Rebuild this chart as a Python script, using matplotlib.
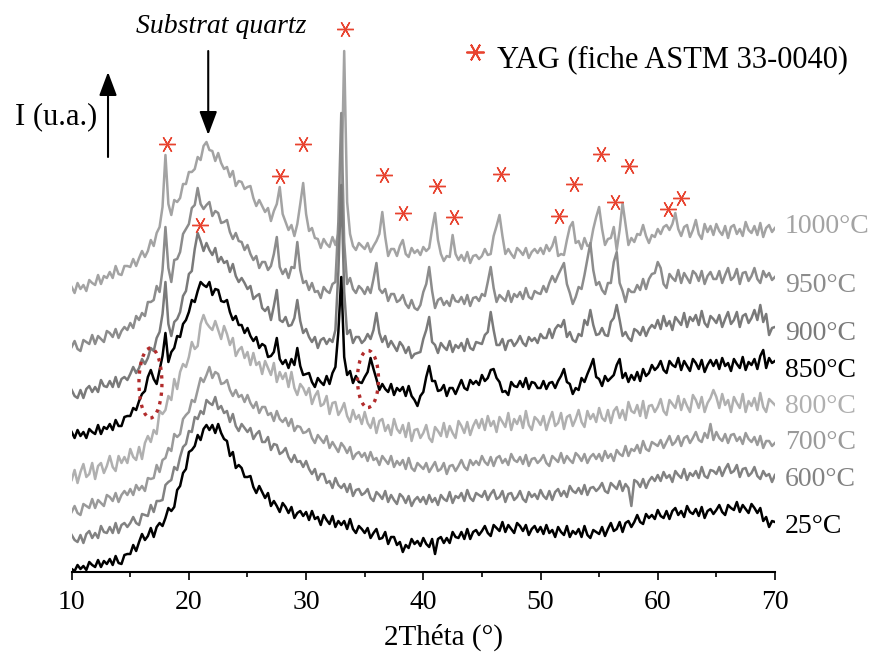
import numpy as np
import matplotlib
matplotlib.use("Agg")
import matplotlib.pyplot as plt
from matplotlib.patches import Ellipse

plt.rcParams['font.family'] = ['Liberation Serif', 'DejaVu Serif']

# 2theta grid, 0.25 deg steps
two_theta = np.linspace(10, 70, 241)

# stacked intensities (u.a.)
i_25 = [3, 1, 7, 3, 6, 2, 10, 7, 5, 12, 5, 11, 8, 13, 7, 16, 9, 8, 17, 18,
        18, 27, 21, 30, 38, 32, 36, 44, 35, 45, 49, 46, 54, 64, 61, 65, 82, 86, 99, 103,
        120, 122, 126, 137, 132, 143, 147, 142, 147, 139, 148, 139, 133, 131, 116, 120, 104, 107, 104, 95,
        95, 96, 85, 79, 86, 80, 74, 79, 66, 71, 66, 60, 69, 65, 59, 65, 54, 59, 61, 56,
        60, 52, 61, 53, 55, 47, 57, 52, 48, 56, 45, 51, 47, 51, 43, 53, 43, 39, 46, 43,
        39, 44, 34, 39, 43, 33, 34, 40, 28, 35, 35, 27, 30, 20, 27, 24, 33, 28, 31, 26,
        34, 28, 25, 33, 18, 33, 35, 29, 34, 29, 40, 35, 34, 40, 33, 43, 33, 40, 42, 37,
        41, 46, 39, 36, 47, 44, 41, 50, 40, 47, 43, 39, 49, 46, 41, 47, 37, 43, 46, 40,
        45, 38, 47, 39, 42, 35, 45, 40, 37, 46, 35, 41, 38, 43, 35, 46, 37, 34, 42, 40,
        38, 45, 36, 43, 49, 41, 43, 50, 40, 49, 51, 45, 50, 57, 50, 48, 58, 54, 57, 53,
        62, 56, 54, 61, 53, 61, 64, 57, 61, 55, 66, 60, 58, 63, 56, 65, 54, 61, 63, 58,
        62, 67, 60, 57, 67, 64, 62, 70, 60, 67, 63, 59, 68, 64, 59, 64, 51, 55, 45, 51,
        50]

i_600 = [37, 32, 30, 37, 29, 38, 41, 34, 39, 34, 46, 40, 39, 45, 39, 49, 39, 47, 49, 45,
         49, 55, 49, 47, 58, 57, 56, 67, 60, 71, 71, 72, 87, 90, 92, 105, 102, 115, 125, 128,
         141, 140, 155, 153, 161, 158, 172, 169, 167, 175, 163, 166, 159, 161, 150, 158, 146, 141, 148, 144,
         140, 144, 133, 138, 141, 130, 130, 135, 122, 128, 127, 118, 120, 124, 115, 110, 117, 110, 111, 105,
         111, 103, 98, 103, 92, 98, 98, 89, 91, 84, 94, 87, 84, 88, 80, 88, 76, 82, 83, 77,
         79, 83, 74, 71, 80, 77, 73, 81, 70, 77, 72, 68, 78, 75, 69, 76, 66, 72, 75, 70,
         75, 68, 77, 70, 74, 67, 77, 73, 71, 80, 69, 76, 74, 79, 71, 82, 74, 71, 79, 77,
         75, 81, 72, 78, 82, 73, 75, 81, 70, 78, 79, 72, 75, 81, 73, 70, 80, 75, 78, 73,
         82, 76, 73, 81, 72, 80, 83, 76, 81, 75, 86, 81, 79, 84, 78, 87, 77, 84, 85, 81,
         84, 89, 81, 79, 89, 86, 83, 91, 81, 88, 84, 66, 92, 90, 85, 93, 84, 91, 95, 91,
         97, 91, 100, 94, 97, 90, 101, 97, 94, 103, 92, 99, 96, 101, 94, 105, 96, 94, 102, 101,
         98, 105, 96, 103, 108, 99, 101, 107, 95, 103, 104, 96, 99, 105, 96, 93, 101, 96, 98, 90,
         97]

i_700 = [60, 66, 59, 57, 68, 66, 64, 73, 64, 72, 69, 66, 77, 75, 71, 79, 70, 77, 81, 77,
         83, 77, 87, 82, 86, 81, 94, 93, 94, 107, 100, 112, 114, 124, 121, 138, 135, 138, 153, 157,
         160, 172, 170, 182, 194, 190, 197, 205, 194, 200, 198, 188, 189, 192, 182, 176, 182, 175, 177, 170,
         177, 169, 164, 170, 159, 165, 165, 157, 159, 151, 161, 153, 150, 154, 146, 153, 141, 146, 145, 139,
         140, 143, 134, 129, 137, 133, 129, 136, 124, 130, 125, 120, 129, 125, 119, 125, 113, 118, 120, 115,
         119, 111, 120, 112, 114, 107, 116, 112, 108, 116, 105, 111, 107, 112, 103, 114, 104, 101, 109, 106,
         103, 109, 100, 105, 110, 101, 103, 109, 98, 106, 107, 101, 106, 112, 105, 102, 112, 107, 111, 107,
         116, 110, 107, 115, 106, 114, 116, 109, 113, 107, 118, 112, 110, 115, 108, 117, 106, 113, 114, 109,
         112, 117, 109, 106, 116, 113, 110, 119, 109, 116, 112, 109, 119, 116, 111, 118, 109, 115, 118, 113,
         118, 111, 121, 114, 118, 111, 122, 118, 116, 126, 116, 123, 121, 127, 119, 131, 123, 121, 130, 128,
         126, 132, 124, 130, 136, 127, 130, 136, 126, 134, 136, 129, 134, 140, 132, 130, 139, 134, 148, 132,
         140, 134, 131, 138, 129, 137, 138, 131, 135, 128, 139, 133, 130, 135, 127, 136, 124, 131, 131, 126,
         129]

i_800 = [92, 102, 89, 100, 108, 95, 98, 109, 93, 106, 109, 99, 106, 116, 105, 101, 116, 109, 115, 109,
         123, 115, 112, 125, 113, 129, 136, 130, 142, 138, 161, 158, 162, 176, 172, 193, 183, 200, 208, 205,
         215, 230, 223, 226, 248, 257, 249, 245, 242, 251, 242, 233, 246, 238, 227, 234, 216, 222, 225, 214,
         220, 207, 219, 207, 210, 198, 211, 204, 197, 209, 190, 200, 193, 199, 185, 200, 184, 177, 188, 184,
         177, 184, 168, 176, 181, 166, 168, 176, 158, 169, 170, 157, 162, 169, 156, 150, 162, 153, 157, 148,
         160, 149, 144, 154, 139, 151, 153, 141, 147, 137, 153, 143, 139, 147, 135, 149, 131, 142, 143, 134,
         139, 147, 134, 130, 145, 141, 136, 149, 135, 146, 139, 134, 151, 146, 139, 150, 137, 146, 152, 144,
         153, 142, 156, 146, 151, 140, 155, 150, 145, 159, 142, 153, 148, 156, 144, 161, 147, 142, 155, 152,
         147, 156, 142, 152, 160, 146, 149, 159, 143, 155, 157, 146, 153, 162, 150, 145, 161, 153, 158, 150,
         164, 154, 151, 162, 149, 161, 165, 154, 162, 152, 170, 161, 159, 167, 156, 171, 154, 166, 167, 160,
         165, 173, 161, 157, 172, 168, 164, 176, 162, 173, 166, 160, 177, 172, 164, 175, 160, 169, 174, 182,
         175, 164, 178, 167, 172, 160, 175, 169, 164, 178, 160, 171, 166, 174, 162, 179, 165, 160, 173, 170,
         167]

i_850 = [140, 134, 142, 136, 140, 134, 143, 140, 138, 147, 138, 145, 143, 148, 142, 152, 146, 146, 155, 156,
         156, 164, 162, 171, 178, 181, 195, 202, 193, 188, 202, 216, 239, 210, 220, 224, 236, 235, 248, 252,
         260, 272, 270, 281, 290, 287, 285, 290, 277, 283, 282, 271, 270, 272, 260, 252, 256, 247, 247, 239,
         244, 236, 231, 235, 224, 228, 226, 215, 216, 220, 234, 213, 208, 212, 204, 213, 207, 224, 206, 197,
         198, 199, 190, 185, 194, 190, 187, 196, 188, 199, 205, 240, 295, 215, 197, 201, 189, 196, 190, 189,
         195, 200, 214, 203, 193, 182, 188, 183, 180, 188, 177, 184, 181, 185, 176, 186, 176, 172, 166, 176,
         180, 195, 206, 191, 191, 181, 182, 187, 176, 184, 184, 178, 185, 192, 184, 182, 192, 188, 191, 187,
         197, 191, 194, 202, 203, 194, 190, 180, 181, 177, 190, 186, 185, 191, 185, 194, 183, 190, 189, 184,
         184, 191, 183, 189, 190, 184, 191, 196, 203, 190, 188, 178, 184, 182, 194, 190, 198, 205, 213, 195,
         193, 186, 196, 191, 194, 197, 207, 213, 194, 199, 190, 197, 192, 200, 191, 203, 196, 199, 207, 202,
         205, 211, 202, 199, 211, 207, 205, 214, 202, 211, 206, 201, 213, 209, 203, 212, 200, 207, 212, 206,
         212, 203, 214, 206, 209, 201, 213, 208, 204, 215, 202, 210, 207, 213, 203, 216, 222, 204, 214, 209,
         211]

i_900 = [182, 176, 174, 182, 174, 183, 186, 180, 185, 180, 192, 186, 185, 191, 185, 195, 185, 193, 195, 192,
         198, 205, 199, 204, 213, 208, 214, 224, 221, 234, 240, 258, 290, 248, 236, 250, 253, 260, 276, 281,
         298, 301, 323, 339, 331, 321, 329, 322, 317, 324, 310, 315, 309, 311, 300, 308, 296, 290, 294, 289,
         283, 286, 273, 276, 278, 264, 261, 265, 252, 266, 282, 252, 250, 255, 246, 247, 254, 272, 251, 239,
         243, 235, 230, 235, 224, 232, 234, 228, 233, 230, 242, 300, 387, 280, 238, 242, 229, 235, 235, 229,
         232, 238, 233, 242, 259, 239, 230, 236, 225, 231, 226, 221, 230, 226, 219, 225, 214, 218, 219, 220,
         233, 242, 255, 230, 227, 219, 229, 225, 222, 231, 220, 227, 224, 229, 221, 233, 224, 222, 230, 229,
         228, 237, 240, 260, 242, 227, 227, 233, 222, 231, 232, 226, 230, 236, 229, 226, 235, 231, 234, 229,
         238, 234, 234, 243, 234, 243, 247, 245, 252, 235, 240, 232, 230, 238, 236, 252, 247, 262, 247, 237,
         238, 244, 237, 236, 250, 254, 267, 252, 236, 240, 234, 231, 243, 241, 237, 245, 236, 243, 247, 244,
         252, 243, 256, 246, 251, 242, 255, 251, 247, 259, 245, 255, 251, 257, 247, 261, 249, 245, 256, 253,
         249, 257, 245, 253, 260, 248, 252, 260, 245, 256, 258, 249, 254, 262, 252, 267, 250, 258, 237, 244,
         245]

i_950 = [225, 231, 223, 221, 232, 230, 228, 237, 228, 236, 233, 230, 241, 239, 235, 243, 234, 241, 245, 242,
         249, 244, 256, 252, 259, 256, 270, 270, 272, 286, 280, 302, 345, 304, 290, 312, 313, 320, 338, 343,
         348, 364, 367, 384, 368, 363, 367, 370, 356, 361, 359, 349, 350, 352, 340, 333, 339, 331, 330, 322,
         327, 318, 312, 316, 304, 310, 310, 302, 306, 318, 335, 305, 298, 303, 294, 305, 304, 330, 302, 289,
         291, 282, 289, 280, 281, 274, 285, 281, 279, 288, 290, 350, 459, 330, 288, 294, 283, 279, 286, 283,
         278, 285, 279, 293, 309, 283, 279, 283, 271, 278, 278, 270, 272, 277, 268, 264, 272, 264, 262, 267,
         280, 288, 305, 281, 264, 272, 274, 267, 271, 266, 277, 271, 270, 275, 268, 277, 266, 274, 275, 271,
         278, 276, 290, 305, 284, 270, 277, 274, 271, 281, 270, 278, 275, 280, 273, 284, 275, 273, 281, 279,
         278, 286, 280, 289, 296, 290, 297, 303, 309, 288, 279, 268, 275, 285, 283, 297, 313, 329, 302, 287,
         290, 282, 278, 289, 289, 310, 320, 289, 281, 270, 283, 280, 280, 287, 282, 293, 283, 293, 298, 299,
         310, 304, 288, 284, 298, 294, 291, 302, 289, 299, 294, 289, 301, 298, 291, 301, 288, 296, 300, 293,
         293, 301, 289, 297, 304, 292, 295, 303, 288, 299, 300, 291, 296, 304, 293, 289, 301, 295, 299, 292,
         295]

i_1000 = [285, 279, 289, 283, 287, 281, 292, 289, 287, 297, 288, 296, 294, 300, 294, 306, 298, 297, 306, 306,
          305, 313, 306, 314, 321, 315, 321, 332, 326, 339, 345, 365, 417, 368, 357, 372, 370, 374, 388, 388,
          400, 400, 403, 415, 412, 426, 430, 422, 421, 411, 419, 409, 403, 405, 395, 401, 386, 391, 390, 383,
          385, 386, 374, 366, 372, 366, 360, 364, 351, 361, 368, 385, 358, 350, 342, 347, 336, 348, 368, 389,
          358, 341, 344, 334, 333, 324, 333, 328, 325, 335, 327, 338, 375, 521, 370, 338, 326, 322, 329, 326,
          323, 329, 320, 326, 331, 338, 360, 335, 316, 323, 323, 316, 326, 332, 318, 315, 324, 319, 322, 317,
          325, 321, 324, 343, 359, 332, 318, 311, 316, 315, 337, 318, 312, 317, 311, 320, 309, 316, 317, 313,
          316, 323, 317, 318, 336, 346, 357, 336, 318, 323, 318, 314, 324, 321, 317, 324, 314, 320, 323, 319,
          324, 318, 327, 321, 326, 335, 316, 318, 317, 332, 345, 350, 329, 331, 323, 334, 326, 327, 343, 355,
          365, 343, 327, 333, 334, 345, 322, 342, 369, 348, 327, 334, 330, 338, 337, 347, 336, 329, 337, 335,
          343, 338, 345, 347, 342, 348, 359, 343, 336, 345, 347, 335, 342, 352, 338, 333, 348, 340, 346, 337,
          348, 341, 337, 346, 334, 345, 347, 338, 343, 336, 350, 342, 339, 346, 337, 349, 335, 344, 347, 340,
          344]

temperatures = ['1000°C', '950°C', '900°C', '850°C', '800°C', '700°C', '600°C', '25°C']
patterns = [i_1000, i_950, i_900, i_850, i_800, i_700, i_600, i_25]
colors = ['#a3a3a3', '#8c8c8c', '#7a7a7a', '#000000', '#b0b0b0', '#9a9a9a', '#828282', '#000000']
label_y = [339, 280, 232, 195, 159, 123, 86, 39]

# YAG reflections (ASTM 33-0040) marked on the chart
star_x = [18.13, 20.95, 27.77, 29.73, 33.31, 36.64, 38.26, 41.16, 42.58,
          46.67, 51.57, 52.85, 55.15, 56.34, 57.51, 60.88, 61.99]
star_y = [428, 347, 396, 428, 543, 397, 359, 386, 355,
          398, 356, 388, 418, 370, 406, 363, 374]

fig = plt.figure(figsize=(8.72, 6.58), dpi=100)
ax = fig.add_axes([0.0822, 0.1307, 0.8065, 0.8693])

for k, (vals, col) in enumerate(zip(patterns, colors)):
    ax.plot(two_theta, vals, color=col, lw=1.8, zorder=2 + k)

star = (6, 2, 90)
ax.plot(star_x, star_y, ls='none', marker=star, ms=12, mec='#e8432f', mew=1.0, zorder=20)

for t, col, y in zip(temperatures, colors, label_y):
    ax.text(70.86, y, t, color=col, fontsize=20, ha='left', va='baseline')

# legend
ax.plot([44.41], [520], ls='none', marker=star, ms=13, mec='#e8432f', mew=1.3, clip_on=False)
ax.text(46.3, 505, 'YAG (fiche ASTM 33-0040)', fontsize=22, ha='left', va='baseline')

# intensity arrow and quartz substrate marker
ax.text(5.16, 448, 'I (u.a.)', fontsize=22, ha='left', va='baseline')
ax.annotate('', xy=(13.10, 500), xytext=(13.10, 415), annotation_clip=False,
            arrowprops=dict(arrowstyle='-|>,head_length=1.2,head_width=0.45', color='black',
                            lw=1.5, mutation_scale=12, shrinkA=0, shrinkB=0))
ax.text(22.74, 539, 'Substrat quartz', fontsize=20, style='italic', ha='center', va='baseline')
ax.annotate('', xy=(21.65, 437), xytext=(21.65, 521), annotation_clip=False,
            arrowprops=dict(arrowstyle='-|>,head_length=1.2,head_width=0.45', color='black',
                            lw=1.5, mutation_scale=12, shrinkA=0, shrinkB=0))

# dotted ellipses around the first YAG peaks at 850 C
for cx, cy, w, h in [(16.72, 189, 1.96, 70), (35.28, 193, 1.79, 57)]:
    ax.add_patch(Ellipse((cx, cy), w, h, fill=False, ec='#b22c2c', lw=2.4,
                         ls=(0, (1, 1.6)), zorder=30))

ax.set_xlim(10, 70)
ax.set_ylim(0, 572)
ax.set_xticks(range(10, 71, 10))
ax.set_xticks(range(15, 70, 10), minor=True)
ax.set_yticks([])
ax.tick_params(axis='x', which='major', direction='out', length=6, width=1.2, labelsize=20, pad=7)
ax.tick_params(axis='x', which='minor', direction='out', length=3.5, width=1.2)
for side in ['left', 'top', 'right']:
    ax.spines[side].set_visible(False)
ax.spines['bottom'].set_linewidth(1.5)
ax.patch.set_alpha(0)

fig.text(444 / 872, 1 - 645 / 658, '2Théta (°)', ha='center', va='baseline', fontsize=21)

fig.savefig('out.png', dpi=100)
